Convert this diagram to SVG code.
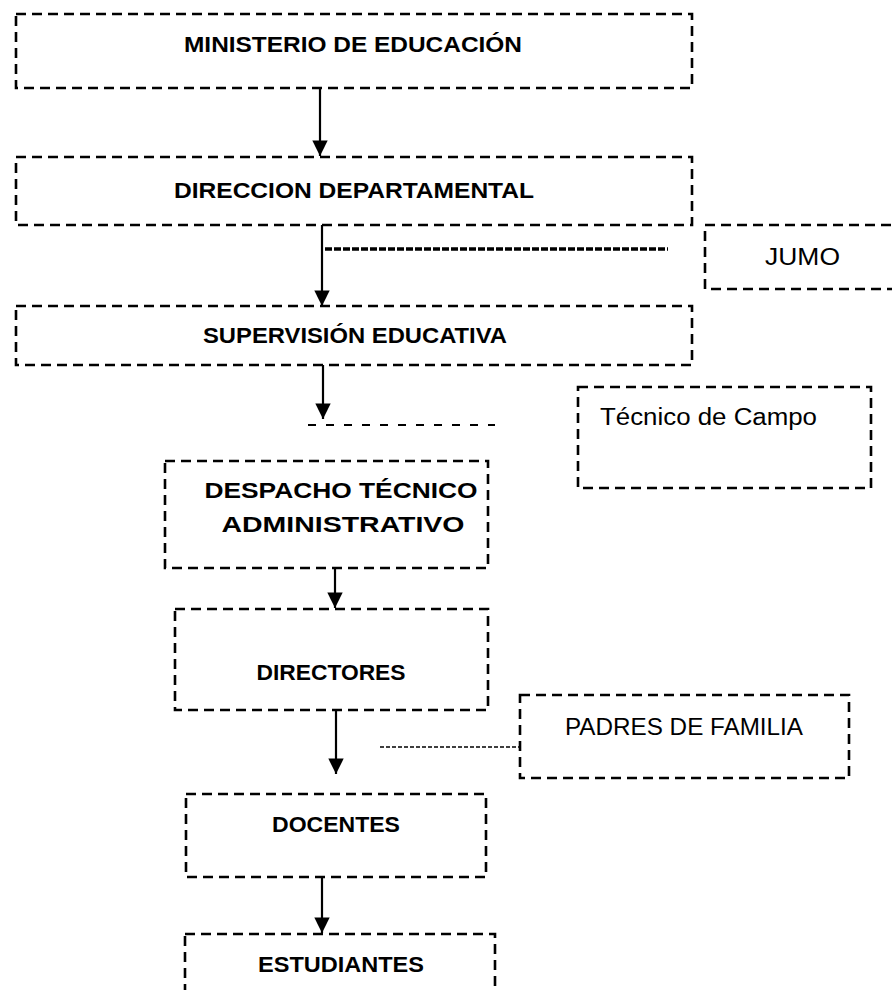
<svg xmlns="http://www.w3.org/2000/svg" width="892" height="990" viewBox="0 0 892 990">
<style>
.box{fill:none;stroke:#000;stroke-width:2.6;stroke-dasharray:10 6}
.b{font-family:"Liberation Sans",Arial,sans-serif;font-weight:bold;font-size:22px;fill:#000;text-anchor:middle}
.n{font-family:"Liberation Sans",Arial,sans-serif;font-size:23px;fill:#000}
.arr{stroke:#000;stroke-width:2.2;fill:none}
</style>
<defs>
<marker id="ah" viewBox="0 0 10 10" refX="10" refY="5" markerWidth="7.5" markerHeight="7" markerUnits="strokeWidth" orient="auto">
<path d="M0,0 L10,5 L0,10 Z" fill="#000"/>
</marker>
</defs>
<rect width="892" height="990" fill="#fff"/>
<g id="connectors">
<line class="arr" x1="320" y1="88" x2="320" y2="156" marker-end="url(#ah)"/>
<line class="arr" x1="322" y1="225" x2="322" y2="306" marker-end="url(#ah)"/>
<line x1="325" y1="249" x2="668" y2="249" stroke="#000" stroke-width="3.5" stroke-dasharray="7 2"/>
<line class="arr" x1="323" y1="365" x2="323" y2="419" marker-end="url(#ah)"/>
<line x1="308" y1="425" x2="495" y2="425" stroke="#000" stroke-width="2.2" stroke-dasharray="8 10"/>
<line class="arr" x1="335" y1="568" x2="335" y2="608" marker-end="url(#ah)"/>
<line class="arr" x1="336" y1="711" x2="336" y2="774" marker-end="url(#ah)"/>
<line x1="380" y1="747" x2="520" y2="747" stroke="#000" stroke-width="1.5" stroke-dasharray="4 2"/>
<line class="arr" x1="322" y1="877" x2="322" y2="933" marker-end="url(#ah)"/>
</g>
<g id="ministerio">
<rect class="box" x="16" y="14" width="676" height="74"/>
<text class="b" x="353" y="52" textLength="338" lengthAdjust="spacingAndGlyphs">MINISTERIO DE EDUCACIÓN</text>
</g>
<g id="direccion">
<rect class="box" x="16" y="157" width="676" height="68"/>
<text class="b" x="354" y="198" textLength="360" lengthAdjust="spacingAndGlyphs">DIRECCION DEPARTAMENTAL</text>
</g>
<g id="jumo">
<rect class="box" x="705" y="225" width="200" height="64"/>
<text class="n" x="765" y="265" textLength="75" lengthAdjust="spacingAndGlyphs">JUMO</text>
</g>
<g id="supervision">
<rect class="box" x="16" y="306" width="676" height="59"/>
<text class="b" x="355" y="343" textLength="304" lengthAdjust="spacingAndGlyphs">SUPERVISIÓN EDUCATIVA</text>
</g>
<g id="tecnico">
<rect class="box" x="578" y="387" width="293" height="101"/>
<text class="n" x="600" y="425" textLength="217" lengthAdjust="spacingAndGlyphs">Técnico de Campo</text>
</g>
<g id="despacho">
<rect class="box" x="165" y="461" width="323" height="107"/>
<text class="b" x="341" y="498" textLength="273" lengthAdjust="spacingAndGlyphs">DESPACHO TÉCNICO</text>
<text class="b" x="343" y="532" textLength="243" lengthAdjust="spacingAndGlyphs">ADMINISTRATIVO</text>
</g>
<g id="directores">
<rect class="box" x="175" y="609" width="313" height="101"/>
<text class="b" x="331" y="680" textLength="149" lengthAdjust="spacingAndGlyphs">DIRECTORES</text>
</g>
<g id="padres">
<rect class="box" x="520" y="695" width="329" height="83"/>
<text class="n" x="565" y="735" textLength="238" lengthAdjust="spacingAndGlyphs">PADRES DE FAMILIA</text>
</g>
<g id="docentes">
<rect class="box" x="186" y="794" width="300" height="83"/>
<text class="b" x="336" y="832" textLength="128" lengthAdjust="spacingAndGlyphs">DOCENTES</text>
</g>
<g id="estudiantes">
<rect class="box" x="185" y="934" width="310" height="80"/>
<text class="b" x="341" y="972" textLength="166" lengthAdjust="spacingAndGlyphs">ESTUDIANTES</text>
</g>
</svg>
